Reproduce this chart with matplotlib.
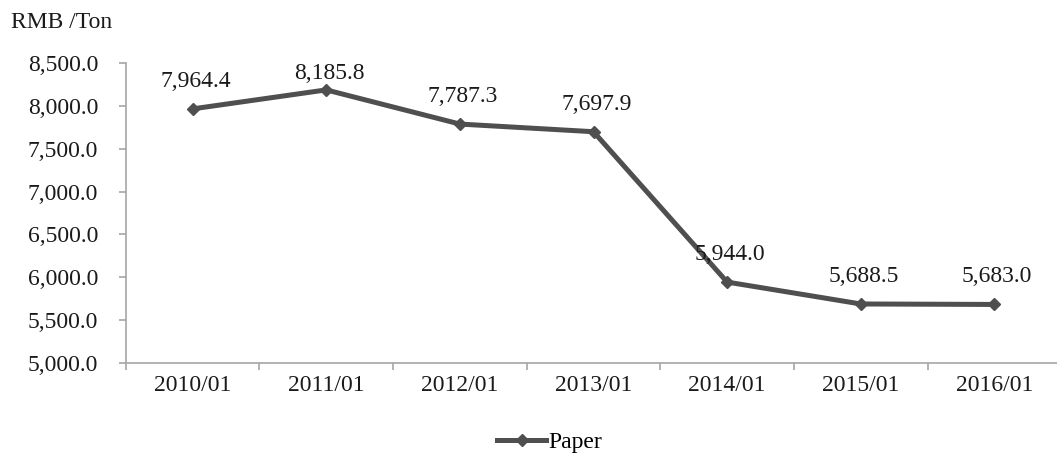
import matplotlib.pyplot as plt
from matplotlib.ticker import FixedLocator, FuncFormatter

plt.rcParams['font.family'] = ['Liberation Serif', 'DejaVu Serif']

# Average paper price by year
years = ["2010/01", "2011/01", "2012/01", "2013/01", "2014/01", "2015/01", "2016/01"]
paper = [7964.4, 8185.8, 7787.3, 7697.9, 5944.0, 5688.5, 5683.0]
y_ticks = [5000, 5500, 6000, 6500, 7000, 7500, 8000, 8500]

line_col = "#4f4f4f"
axis_col = "#a6a6a6"
fs = 17

fig = plt.figure(figsize=(10.57, 4.63), dpi=100)
ax = fig.add_axes([0.119, 0.216, 0.885, 0.648])

x = list(range(len(years)))
ax.plot(x, paper, color=line_col, lw=3.6, marker="D", markersize=6,
        label="Paper", solid_joinstyle="miter", clip_on=False)

ax.set_xlim(-0.5, len(years) - 0.5)
ax.set_ylim(y_ticks[0], y_ticks[-1])
ax.yaxis.set_major_locator(FixedLocator(y_ticks))
ax.yaxis.set_major_formatter(FuncFormatter(lambda v, p: f"{v:,.1f}"))

# value labels sit above each point but stay inside the plot area
pt = fig.dpi / 72
top_px = ax.transAxes.transform((0, 1))[1]
cap_px = 0.68 * fs * pt
for xi, v in zip(x, paper):
    py = ax.transData.transform((xi, v))[1]
    off = min(16, (top_px - py - cap_px) / pt)
    ax.annotate(f"{v:,.1f}", (xi, v), xytext=(2, off), textcoords="offset points",
                ha="center", va="baseline", fontsize=fs, color="#1a1a1a")

# category boundaries get tick marks, centers get the labels
ax.set_xticks([i - 0.5 for i in range(len(years) + 1)])
ax.set_xticklabels([])
ax.set_xticks(x, minor=True)
ax.set_xticklabels(years, minor=True)
ax.tick_params(axis="x", which="major", length=5, width=1.2, color=axis_col)
ax.tick_params(axis="x", which="minor", length=0, pad=9, labelsize=fs, labelcolor="#1a1a1a")
ax.tick_params(axis="y", length=5, width=1.2, color=axis_col, pad=15,
               labelsize=fs, labelcolor="#1a1a1a")

for s in ["top", "right"]:
    ax.spines[s].set_visible(False)
for s in ["left", "bottom"]:
    ax.spines[s].set_color(axis_col)
    ax.spines[s].set_linewidth(1.2)

fig.text(0.01, 0.975, "RMB /Ton", fontsize=fs, va="top", ha="left", color="#1a1a1a")

fig.legend(loc="center", bbox_to_anchor=(0.52, 0.045), frameon=False, fontsize=fs,
           handlelength=2.1, handletextpad=0.1)

fig.savefig("out.png", dpi=100)
